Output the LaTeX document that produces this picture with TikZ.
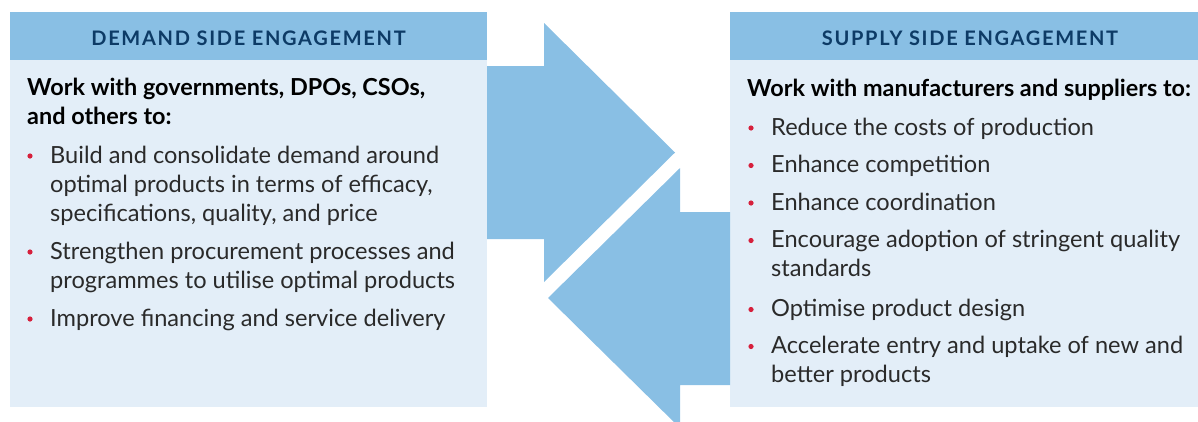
\documentclass[tikz,border=0pt]{standalone}
\usepackage{fontspec}
\setmainfont{Lato}
\definecolor{headc}{HTML}{89BFE4}
\definecolor{bodyc}{HTML}{E3EEF8}
\definecolor{navy}{HTML}{0D3B66}
\definecolor{redc}{HTML}{D6203C}
\definecolor{txtc}{HTML}{2A2A2A}
\begin{document}
\begin{tikzpicture}[x=1pt,y=-1pt,
  headtxt/.style={font=\fontsize{20}{24}\selectfont\bfseries\addfontfeature{LetterSpace=8.5}, text=navy, inner sep=0},
  introtxt/.style={font=\fontsize{23.4}{29}\selectfont\bfseries, text=black, anchor=base west, align=left, inner sep=0},
  itemtxt/.style={font=\fontsize{23.6}{29}\selectfont, text=txtc, anchor=base west, align=left, inner sep=0},
  dot/.style={circle, fill=redc, inner sep=0, minimum size=5.2pt}]
\useasboundingbox (0,0) rectangle (1198,421);
\clip (0,0) rectangle (1198,421);
% panels
\fill[bodyc] (10,12) rectangle (487,407);
\fill[headc] (10,12) rectangle (487,60);
\fill[bodyc] (730,12) rectangle (1210,407);
\fill[headc] (730,12) rectangle (1210,60);
% arrows
\fill[headc] (487,66) -- (544,66) -- (544,23) -- (675,152.5) -- (544,282) -- (544,239) -- (487,239) -- cycle;
\fill[headc] (730,212) -- (680,212) -- (680,168) -- (548,298) -- (680,428) -- (680,385) -- (730,385) -- cycle;
% headings
\node[headtxt] (dh) at (248.5,38) {DEMAND SIDE ENGAGEMENT};
\node[headtxt] (sh) at (970,38) {SUPPLY SIDE ENGAGEMENT};
% demand side (base anchor = baseline of last line)
\node[introtxt] (di) at (27,124) {Work with governments, DPOs, CSOs,\\and others to:};
\node[dot] (db1) at (30,156) {};
\node[itemtxt] (d1) at (50,221) {Build and consolidate demand around\\optimal products in terms of efficacy,\\specifications, quality, and price};
\node[dot] (db2) at (30,252) {};
\node[itemtxt] (d2) at (50,288) {Strengthen procurement processes and\\programmes to utilise optimal products};
\node[dot] (db3) at (30,319) {};
\node[itemtxt] (d3) at (50,326) {Improve financing and service delivery};
% supply side
\node[introtxt] (si) at (747,96) {Work with manufacturers and suppliers to:};
\node[dot] (sb1) at (751,128) {};
\node[itemtxt] (s1) at (771,135) {Reduce the costs of production};
\node[dot] (sb2) at (751,165.5) {};
\node[itemtxt] (s2) at (771,172.5) {Enhance competition};
\node[dot] (sb3) at (751,203) {};
\node[itemtxt] (s3) at (771,210) {Enhance coordination};
\node[dot] (sb4) at (751,240.5) {};
\node[itemtxt] (s4) at (771,276.5) {Encourage adoption of stringent quality\\standards};
\node[dot] (sb5) at (751,309.5) {};
\node[itemtxt] (s5) at (771,316.5) {Optimise product design};
\node[dot] (sb6) at (751,346.5) {};
\node[itemtxt] (s6) at (771,382.5) {Accelerate entry and uptake of new and\\better products};
\end{tikzpicture}
\end{document}
